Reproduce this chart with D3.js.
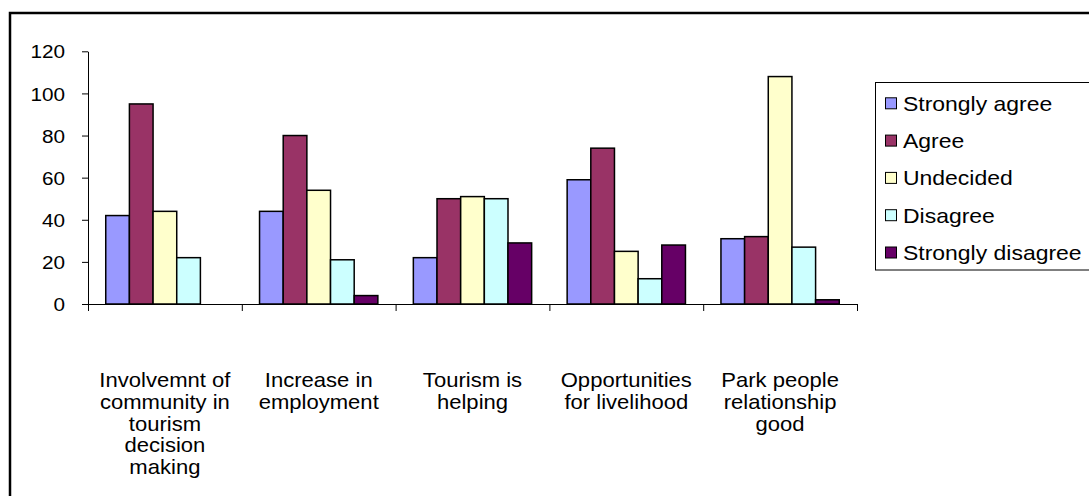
<!DOCTYPE html>
<html>
<head>
<meta charset="utf-8">
<script src="https://cdn.jsdelivr.net/npm/d3@7"></script>
<style>
  body { margin: 0; background: #fff; }
  text { font-family: Arial, "Liberation Sans", sans-serif; fill: #000; }
</style>
</head>
<body>
<div id="chart"></div>
<script>
/* DATA */
const categories = ["c1", "c2", "c3", "c4", "c5"];
const categoryLines = [
  ["Involvemnt of", "community in", "tourism", "decision", "making"],
  ["Increase in", "employment"],
  ["Tourism is", "helping"],
  ["Opportunities", "for livelihood"],
  ["Park people", "relationship", "good"]
];
const seriesNames = ["Strongly agree", "Agree", "Undecided", "Disagree", "Strongly disagree"];
const stronglyAgree    = [42, 44, 22, 59, 31];
const agree            = [95, 80, 50, 74, 32];
const undecided        = [44, 54, 51, 25, 108];
const disagree         = [22, 21, 50, 12, 27];
const stronglyDisagree = [0, 4, 29, 28, 2];
const yTicks = [0, 20, 40, 60, 80, 100, 120];

const seriesValues = [stronglyAgree, agree, undecided, disagree, stronglyDisagree];
const colors = ["#9999FF", "#993366", "#FFFFCC", "#CCFFFF", "#660066"];

/* LAYOUT */
const width = 1089, height = 496;
const plotLeft = 88, plotRight = 857, plotTop = 51.3, plotBottom = 304;
const sx = 1.12; // text is a bit wider than tall in the original

const svg = d3.select("#chart").append("svg")
  .attr("width", width)
  .attr("height", height);

svg.append("rect").attr("width", width).attr("height", height).attr("fill", "#fff");

// outer chart border (runs off the right and bottom edges)
svg.append("rect")
  .attr("x", 10).attr("y", 13)
  .attr("width", 1200).attr("height", 600)
  .attr("fill", "none").attr("stroke", "#000").attr("stroke-width", 2.5);

/* SCALES */
const y = d3.scaleLinear().domain([0, 120]).range([plotBottom, plotTop]);
const x0 = d3.scaleBand().domain(categories).range([plotLeft, plotRight]);
const x1 = d3.scaleBand().domain(seriesNames).range([0, x0.bandwidth()])
  .paddingInner(0).paddingOuter(0.75);
const xEdge = d3.scaleLinear().domain([0, categories.length]).range([plotLeft, plotRight]);

/* BARS */
const data = [];
categories.forEach((c, i) => {
  seriesNames.forEach((s, j) => {
    data.push({ cat: c, series: s, value: seriesValues[j][i], color: colors[j] });
  });
});

svg.append("g")
  .selectAll("rect")
  .data(data.filter(d => d.value > 0))
  .join("rect")
  .attr("x", d => x0(d.cat) + x1(d.series))
  .attr("y", d => y(d.value))
  .attr("width", x1.bandwidth())
  .attr("height", d => y(0) - y(d.value))
  .attr("fill", d => d.color)
  .attr("stroke", "#000")
  .attr("stroke-width", 1.5);

/* AXES */
const yAxis = svg.append("g")
  .attr("transform", `translate(${plotLeft},0)`)
  .call(d3.axisLeft(y).tickValues(yTicks).tickSize(6).tickSizeOuter(0));

yAxis.selectAll("text")
  .attr("font-size", 18.5)
  .attr("x", -23 / sx)
  .attr("dy", "0.36em")
  .attr("transform", `scale(${sx},1)`);

const xAxis = svg.append("g")
  .attr("transform", `translate(0,${plotBottom})`)
  .call(d3.axisBottom(xEdge).tickValues(d3.range(categories.length + 1))
    .tickFormat("").tickSize(7).tickSizeOuter(0));

svg.selectAll(".domain, .tick line").attr("stroke", "#000");
svg.selectAll("text").attr("font-family", null);

// category labels
const catLabels = svg.append("g")
  .selectAll("text")
  .data(categories)
  .join("text")
  .attr("text-anchor", "middle")
  .attr("font-size", 19.7)
  .attr("transform", d => `translate(${x0(d) + x0.bandwidth() / 2},387) scale(${sx},1)`);

catLabels.selectAll("tspan")
  .data((d, i) => categoryLines[i])
  .join("tspan")
  .attr("x", 0)
  .attr("y", (d, i) => i * 21.8)
  .text(d => d);

/* LEGEND */
const legend = svg.append("g");
legend.append("rect")
  .attr("x", 875.5).attr("y", 82.5)
  .attr("width", 300).attr("height", 187.5)
  .attr("fill", "#fff").attr("stroke", "#000").attr("stroke-width", 1);

const rowY = i => 103.3 + i * 37.3;

legend.selectAll(".sw")
  .data(seriesNames)
  .join("rect")
  .attr("class", "sw")
  .attr("x", 885.5)
  .attr("y", (d, i) => rowY(i) - 5.5)
  .attr("width", 11).attr("height", 11)
  .attr("fill", (d, i) => colors[i])
  .attr("stroke", "#000").attr("stroke-width", 1);

legend.selectAll(".lt")
  .data(seriesNames)
  .join("text")
  .attr("class", "lt")
  .attr("font-size", 20.5)
  .attr("dy", "0.36em")
  .attr("transform", (d, i) => `translate(903,${rowY(i)}) scale(${sx},1)`)
  .text(d => d);
</script>
</body>
</html>
